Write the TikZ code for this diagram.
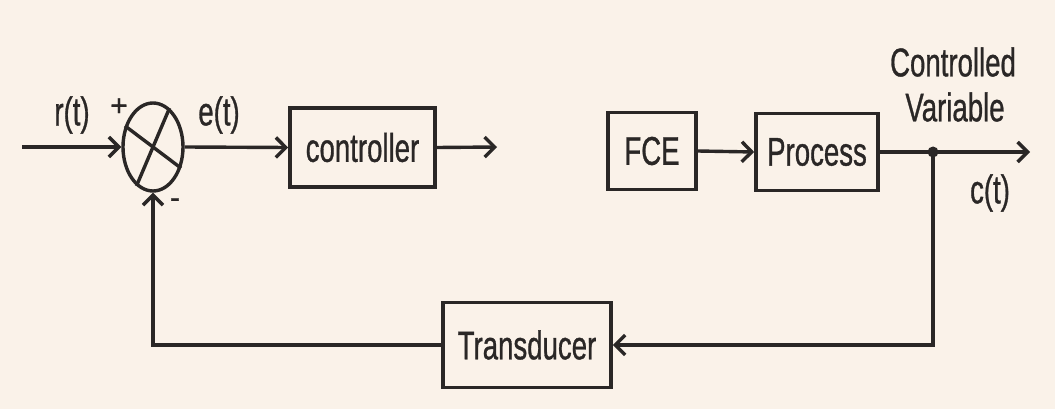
\documentclass[tikz,border=0pt]{standalone}
\usepackage{fontspec}
\setmainfont{Liberation Sans}[FakeBold=1]
\usetikzlibrary{arrows.meta,shapes.geometric}
\definecolor{ink}{HTML}{2A2726}
\definecolor{paper}{HTML}{FAF2E9}
\newcommand\narrowtext[1]{\scalebox{0.69}[1]{#1}}
\begin{document}
\begin{tikzpicture}[x=1pt,y=-1pt,
  box/.style={draw=ink, line width=3.6pt, inner sep=0pt, text=ink,
    font=\fontsize{40}{44}\selectfont},
  lbl/.style={text=ink, inner sep=0pt, font=\fontsize{40}{44}\selectfont},
  sgn/.style={text=ink, inner sep=0pt, font=\fontsize{30}{32}\selectfont},
  wire/.style={draw=ink, line width=3.4pt},
  arr/.style={wire, -{Straight Barb[length=10pt,width=20pt]}}]
\fill[paper] (0,0) rectangle (1055,409);
\useasboundingbox (0,0) rectangle (1055,409);
% sum junction
\node[ellipse, draw=ink, line width=3.4pt, inner sep=0pt, minimum width=60pt, minimum height=88pt] (s) at (153,147) {};
\draw[wire] (s.143) -- (s.-37);
\draw[wire] (s.67) -- (s.-113);
% blocks
\node[box, minimum width=145pt, minimum height=79pt] (ctrl) at (362.5,147.5) {\narrowtext{controller}};
\node[box, minimum width=88pt, minimum height=77pt] (fce) at (652,151) {\narrowtext{FCE}};
\node[box, minimum width=122pt, minimum height=77pt] (proc) at (817,152) {\narrowtext{Process}};
\node[box, minimum width=168pt, minimum height=85pt] (trans) at (527,345) {\narrowtext{Transducer}};
% take-off point
\node[circle, fill=ink, inner sep=0pt, minimum size=11pt] (dot) at (933,152) {};
% free ends
\coordinate (rin) at (22,147);
\coordinate (cout) at (497,147);
\coordinate (cend) at (1030,152);
% connectors
\draw[arr] (rin) -- (s.west);
\draw[arr] (s.east) -- (ctrl.west);
\draw[arr] (ctrl.east) -- (cout);
\draw[arr] (fce.east) -- (proc.west);
\draw[arr] (proc.east) -- (cend);
\draw[arr] (dot.center) |- (trans.east);
\draw[arr] (trans.west) -| (s.south);
% labels
\node[lbl] (lr) at (72,115) {\narrowtext{r(t)}};
\node[sgn] (lplus) at (119,107) {+};
\node[lbl] (le) at (219,115) {\narrowtext{e(t)}};
\node[sgn] (lminus) at (175,203) {-};
\node[lbl] (lcv1) at (953,62) {\narrowtext{Controlled}};
\node[lbl] (lcv2) at (955,107) {\narrowtext{Variable}};
\node[lbl] (lc) at (990,193) {\narrowtext{c(t)}};
\end{tikzpicture}
\end{document}
